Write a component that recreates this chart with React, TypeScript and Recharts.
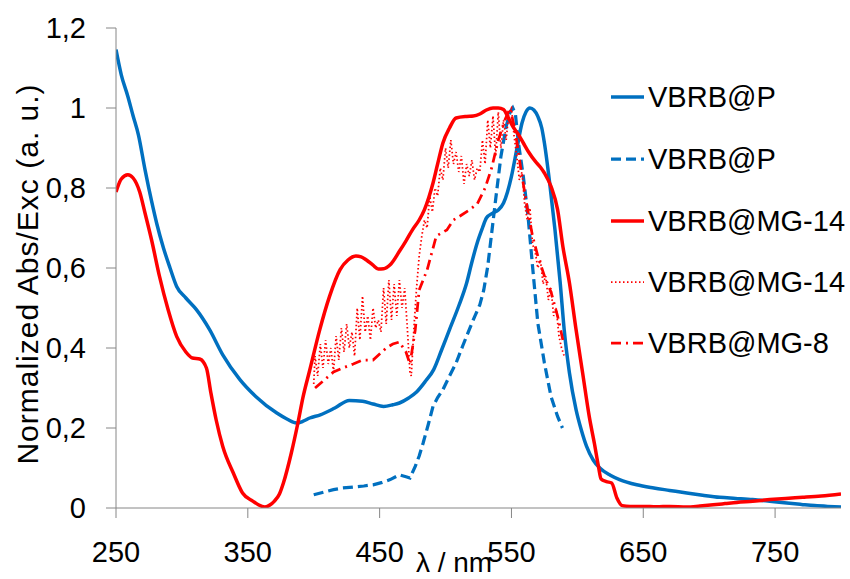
import React from "react";
import { LineChart, Line, XAxis, YAxis } from "recharts";

const FONT = "'Liberation Sans', Arial, sans-serif";
const BLUE = "#0070C0";
const RED = "#FF0000";

const xTicks = [250, 350, 450, 550, 650, 750];
const yTicks = [0, 0.2, 0.4, 0.6, 0.8, 1, 1.2];

// VBRB@P absorption (solid blue)
const pAbsX = [250,254,259,263,267,272,277,281,286,291,296,303,311,321,331,344,356,372,380,387,392,397,405,416,427,437,445,453,460,465,472,478,485,491,497,503,510,516,520,524,528,531,536,540,544,547,550,554,558,561,564,567,570,573,575,579,583,587,590,594,599,603,607,612,617,625,632,645,658,670,683,695,708,720,733,746,759,770,780,790,800];
const pAbsY = [1.146,1.083,1.029,0.98,0.933,0.846,0.767,0.71,0.65,0.6,0.554,0.525,0.496,0.446,0.383,0.321,0.279,0.2375,0.222,0.2125,0.217,0.225,0.233,0.25,0.269,0.267,0.26,0.254,0.258,0.2625,0.275,0.29,0.318,0.346,0.395,0.446,0.505,0.5625,0.615,0.6625,0.7,0.725,0.7375,0.745,0.7625,0.79,0.829,0.896,0.9625,0.99,1.0,0.995,0.979,0.95,0.9125,0.8125,0.696,0.5625,0.446,0.3375,0.246,0.195,0.154,0.12,0.1,0.082,0.071,0.058,0.05,0.044,0.0375,0.032,0.0267,0.024,0.021,0.017,0.0125,0.009,0.006,0.004,0.0025];

// VBRB@P excitation (dashed blue)
const pExcX = [400,408,415,422,430,438,445,452,458,465,470,473,477,480,483,487,490.5,494,498,503,508,513,518,522,526,529,532,535,538.6,542,546,549,551,553,555,559,562.6,566,570,575,580,585,588.7];
const pExcY = [0.033,0.04,0.046,0.05,0.0525,0.055,0.058,0.064,0.071,0.083,0.078,0.075,0.104,0.13,0.1625,0.21,0.254,0.276,0.296,0.33,0.3625,0.405,0.446,0.478,0.508,0.545,0.604,0.6875,0.7875,0.879,0.954,0.99,1.0,0.985,0.92,0.829,0.729,0.604,0.4625,0.3625,0.279,0.229,0.2];

// VBRB@MG-14 absorption (solid red)
const mg14AbsX = [250,254,259,263,268,272,277,283,289.5,296,303,308,313.5,318.6,322,326,331,339,346,354,358,363,367,370,374,377,383,388,392,397,404.6,412,420,426,432,436,440,445,449,453,458,465,470,475,480,484,490.5,494,498,503,508,516,521,526,531,536,540,544,547,551,555,559,563,568,572,575,580,585,589,594,599,604,609,613,616,618,622,626,630,634,640,650,660,670,683,693,703,712,721,733,746,758,771,785,800];
const mg14AbsY = [0.79,0.8225,0.833,0.825,0.79,0.7375,0.67,0.579,0.496,0.429,0.39,0.375,0.3725,0.35,0.2875,0.22,0.154,0.0875,0.0375,0.0167,0.008,0.0025,0.008,0.0167,0.035,0.0625,0.1375,0.2125,0.279,0.345,0.446,0.529,0.596,0.62,0.63,0.628,0.62,0.607,0.5975,0.598,0.608,0.6417,0.668,0.696,0.72,0.746,0.8125,0.86,0.9125,0.95,0.975,0.979,0.98,0.985,0.995,1.0,1.0,0.996,0.98,0.954,0.935,0.9125,0.89,0.867,0.852,0.8375,0.804,0.746,0.654,0.5625,0.446,0.3375,0.229,0.16,0.104,0.0725,0.066,0.0625,0.025,0.006,0.004,0.004,0.003,0.004,0.0025,0.005,0.008,0.011,0.014,0.017,0.021,0.024,0.0267,0.03,0.035];

// VBRB@MG-14 excitation (dotted red)
const mg14ExcX = [400,401,403,405,407,409,411,413,415,417,419,421,423,425,427,429,431,433,435,437,439,441,443,445,447,449,451,453,455,457,459,461,463,465,467,469,471,473,474,476,478,480,482,484,486,488,490,492,494,496,498,500,502,504,506,508,510,512,514,516,518,520,522,524,526,528,530,532,534,536,538,540,542,544,546,548,550,552,554,556,558,560,562,564,566,568,570,572,574,576,578,580,582,584,586,588,590];
const mg14ExcY = [0.31,0.38,0.33,0.41,0.35,0.42,0.36,0.4,0.34,0.43,0.37,0.45,0.39,0.46,0.4,0.44,0.38,0.5,0.42,0.53,0.44,0.48,0.42,0.5,0.45,0.47,0.44,0.55,0.46,0.57,0.47,0.56,0.48,0.57,0.5,0.55,0.45,0.34,0.33,0.45,0.55,0.63,0.68,0.72,0.7,0.78,0.74,0.8,0.78,0.85,0.82,0.9,0.85,0.92,0.86,0.89,0.84,0.88,0.81,0.86,0.83,0.87,0.82,0.85,0.84,0.92,0.86,0.97,0.9,0.98,0.88,0.99,0.9,0.97,0.92,0.99,1.0,0.93,0.88,0.82,0.84,0.76,0.72,0.75,0.66,0.64,0.6,0.62,0.56,0.58,0.52,0.55,0.48,0.5,0.43,0.4,0.38];

// VBRB@MG-8 excitation (dash-dot red)
const mg8ExcX = [401,408,415,422,430,437,445,450,455,460,465,470,473,477,480,486,493,501,506,511,518,524,530,535,540,545,549,553,557,562,566,570,575,580,585,589];
const mg8ExcY = [0.3,0.32,0.34,0.35,0.36,0.37,0.37,0.385,0.4,0.41,0.415,0.39,0.36,0.445,0.545,0.595,0.68,0.695,0.72,0.73,0.745,0.76,0.8,0.85,0.92,0.97,1.0,0.94,0.85,0.75,0.68,0.63,0.58,0.54,0.48,0.42];

const toPts = (xs: number[], ys: number[]) => xs.map((x, i) => ({ x, y: ys[i] }));

const series = [
  { name: "VBRB@P", data: toPts(pAbsX, pAbsY), color: BLUE, width: 3.5, dash: undefined as string | undefined, type: "monotone" },
  { name: "VBRB@P", data: toPts(pExcX, pExcY), color: BLUE, width: 3.25, dash: "10 5", type: "linear" },
  { name: "VBRB@MG-14", data: toPts(mg14AbsX, mg14AbsY), color: RED, width: 3.5, dash: undefined, type: "monotone" },
  { name: "VBRB@MG-14", data: toPts(mg14ExcX, mg14ExcY), color: RED, width: 1.75, dash: "1.5 2.5", type: "linear" },
  { name: "VBRB@MG-8", data: toPts(mg8ExcX, mg8ExcY), color: RED, width: 2.75, dash: "10 5 2 5", type: "linear" },
];

const legendRows = [97, 159, 221, 282, 343];

const fmt = (v: number) => String(v).replace(".", ",");

export default function App() {
  return (
    <div style={{ position: "absolute", left: 0, top: 0, width: 850, height: 579, background: "#fff" }}>
      <LineChart width={850} height={579} margin={{ top: 28, right: 9, bottom: 0, left: 0 }}>
        <XAxis
          type="number"
          dataKey="x"
          domain={[250, 800]}
          ticks={xTicks}
          allowDataOverflow
          height={71}
          tickSize={10}
          tickMargin={23}
          stroke="#868686"
          tick={{ fill: "#000", fontSize: 29, fontFamily: FONT }}
        />
        <YAxis
          type="number"
          domain={[0, 1.2]}
          ticks={yTicks}
          allowDataOverflow
          width={116}
          tickSize={10}
          tickMargin={20}
          stroke="#868686"
          tickFormatter={fmt}
          tick={{ fill: "#000", fontSize: 29, fontFamily: FONT }}
        />
        {series.map((s, i) => (
          <Line
            key={i}
            data={s.data}
            dataKey="y"
            name={s.name}
            type={s.type as any}
            stroke={s.color}
            strokeWidth={s.width}
            strokeDasharray={s.dash}
            dot={false}
            activeDot={false}
            isAnimationActive={false}
          />
        ))}
      </LineChart>
      <svg width={850} height={579} style={{ position: "absolute", left: 0, top: 0, pointerEvents: "none" }}>
        <text
          x={27}
          y={274}
          transform="rotate(-90 27 274)"
          textAnchor="middle"
          dominantBaseline="central"
          fontFamily={FONT}
          fontSize={30}
          letterSpacing={1}
          fill="#000"
        >
          Normalized Abs/Exc (a. u.)
        </text>
        <text x={454} y={572} textAnchor="middle" fontFamily={FONT} fontSize={28} fill="#000">
          λ / nm
        </text>
        {series.map((s, i) => (
          <g key={i}>
            <line
              x1={611}
              x2={644}
              y1={legendRows[i]}
              y2={legendRows[i]}
              stroke={s.color}
              strokeWidth={s.width}
              strokeDasharray={s.dash}
            />
            <text x={648} y={legendRows[i] + 10} fontFamily={FONT} fontSize={29} fill="#000">
              {s.name}
            </text>
          </g>
        ))}
      </svg>
    </div>
  );
}
